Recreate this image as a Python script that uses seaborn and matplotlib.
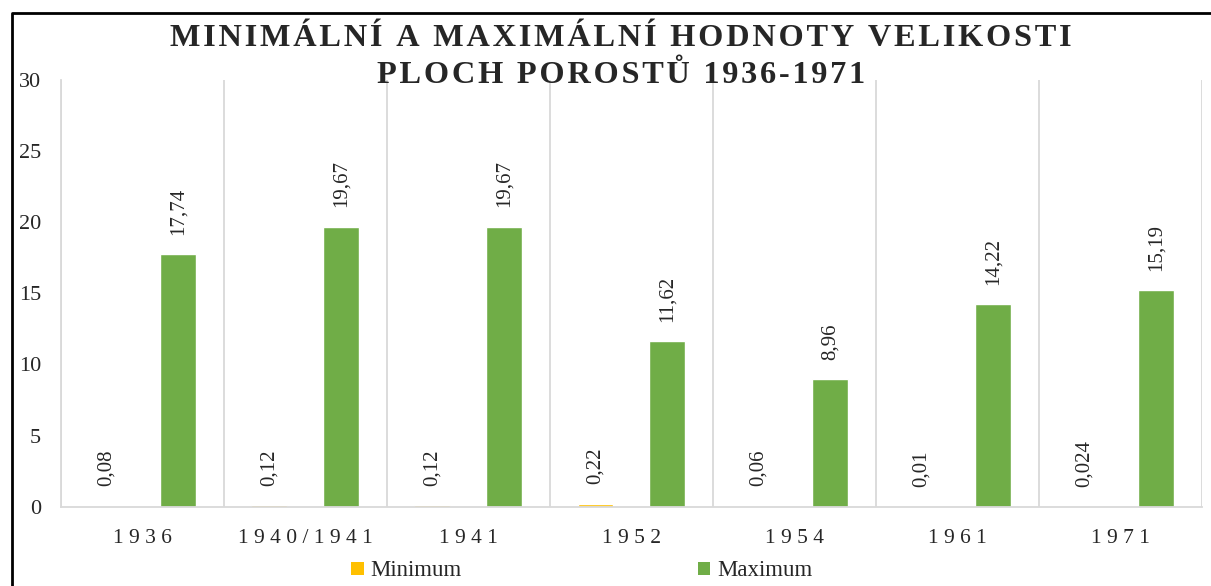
import numpy as np
import pandas as pd
import matplotlib.pyplot as plt
import seaborn as sns
from matplotlib.patches import Patch
from matplotlib.lines import Line2D

# data
roky = ["1936", "1940/1941", "1941", "1952", "1954", "1961", "1971"]
minimum = [0.08, 0.12, 0.12, 0.22, 0.06, 0.01, 0.024]
maximum = [17.74, 19.67, 19.67, 11.62, 8.96, 14.22, 15.19]
serie = ["Minimum", "Maximum"]
barvy = ["#FFC000", "#70AD47"]
title_lines = ["MINIMÁLNÍ A MAXIMÁLNÍ HODNOTY VELIKOSTI", "PLOCH POROSTŮ 1936-1971"]

df = pd.DataFrame({
    "rok": roky * 2,
    "typ": [serie[0]] * len(roky) + [serie[1]] * len(roky),
    "hodnota": minimum + maximum,
})

sns.set_style("white")
plt.rcParams["font.family"] = ["Liberation Serif", "DejaVu Serif"]
grid_col = "#D9D9D9"


def spaced(s, sep):
    return sep.join(s)


fig = plt.figure(figsize=(12.11, 5.86), dpi=100)
ax = fig.add_axes([0.0501, 0.1353, 0.9425, 0.729])

sns.barplot(data=df, x="rok", y="hodnota", hue="typ", palette=barvy,
            saturation=1, width=0.88, gap=0.5, legend=False, ax=ax)

for cont, vals in zip(ax.containers, [minimum, maximum]):
    labels = [str(v).replace(".", ",") for v in vals]
    ax.bar_label(cont, labels=labels, rotation=90, padding=14, fontsize=15)

ax.set_xlim(-0.5, len(roky) - 0.5)
ax.set_ylim(0, 30)
ax.set_yticks(range(0, 31, 5))
ax.set_xticks(range(len(roky)))
ax.set_xticklabels([spaced(r, " ") for r in roky], fontsize=15.5)
ax.tick_params(axis="x", length=0, pad=16)
ax.tick_params(axis="y", labelsize=16, length=5, width=1, color=grid_col, pad=9)
ax.set_xticks(np.arange(-0.5, len(roky)), minor=True)
ax.tick_params(axis="x", which="minor", length=0)
ax.grid(axis="x", which="minor", color=grid_col, lw=1.3)
ax.set_xlabel("")
ax.set_ylabel("")
for side in ["top", "right"]:
    ax.spines[side].set_visible(False)
for side in ["left", "bottom"]:
    ax.spines[side].set_color(grid_col)
    ax.spines[side].set_linewidth(1.3)

# title with wide letter spacing
fig.text(0.5125, 1 - 46 / 586, spaced(title_lines[0], "\u200a"),
         ha="center", va="baseline", fontsize=23.3, fontweight="bold")
fig.text(0.5125, 1 - 83 / 586, spaced(title_lines[1], "\u200a"),
         ha="center", va="baseline", fontsize=23.3, fontweight="bold")

handles = [Patch(facecolor=c, edgecolor="none") for c in barvy]
fig.legend(handles, serie, loc="center", bbox_to_anchor=(582 / 1211, 1 - 571 / 586),
           ncol=2, frameon=False, fontsize=16.5, handlelength=0.54, handleheight=0.54,
           handletextpad=0.3, columnspacing=10.3, borderaxespad=0, borderpad=0)

# frame around the chart area
fig.add_artist(Line2D([12 / 1211, 12 / 1211, 1.0], [0.0, 1 - 13 / 586, 1 - 13 / 586],
                      transform=fig.transFigure, color="black", lw=2))

fig.savefig("out.png", dpi=100, facecolor="white")
